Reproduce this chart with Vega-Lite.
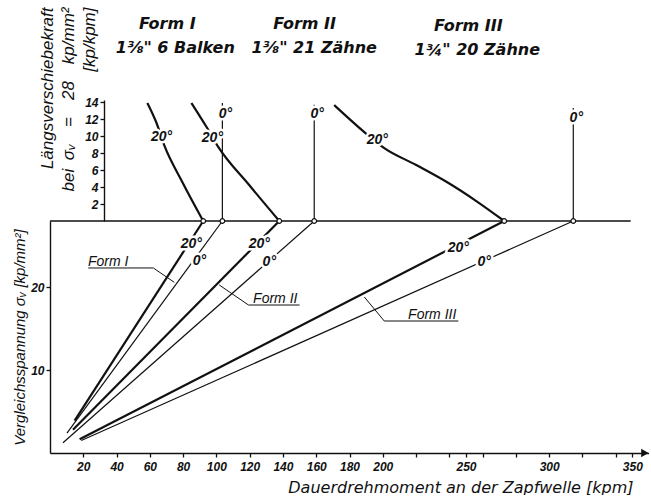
{
  "$schema": "https://vega.github.io/schema/vega-lite/v6.json",
  "padding": {"left": 12, "right": 0, "top": 0, "bottom": 0},
  "spacing": 0,
  "bounds": "flush",
  "config": {
    "view": {"stroke": null},
    "font": "Liberation Sans",
    "axis": {
      "grid": false,
      "domainColor": "#111",
      "tickColor": "#111",
      "labelColor": "#111",
      "titleColor": "#111",
      "labelFont": "Liberation Sans",
      "labelFontStyle": "italic",
      "labelFontWeight": "bold",
      "labelFontSize": 12,
      "titleFont": "Liberation Sans",
      "titleFontStyle": "italic",
      "titleFontWeight": "normal",
      "domainWidth": 1.4,
      "tickWidth": 1.3,
      "tickSize": 4,
      "labelPadding": 2
    }
  },
  "datasets": {
    "header": [
      {"t": "Form I", "x": 70.5, "y": 7.6},
      {"t": "1⅜\" 6 Balken", "x": 75.3, "y": 5.2},
      {"t": "Form II", "x": 153, "y": 7.6},
      {"t": "1⅜\"  21 Zähne", "x": 158.8, "y": 5.2},
      {"t": "Form III", "x": 251.4, "y": 7.4},
      {"t": "1¾\"  20 Zähne", "x": 256.8, "y": 5.0}
    ],
    "upper_lines": [
      {"key": "I-20", "angle": "20°", "x": 58.5, "y": 13.9},
      {"key": "I-20", "angle": "20°", "x": 63.9, "y": 11.6},
      {"key": "I-20", "angle": "20°", "x": 68.7, "y": 8.9},
      {"key": "I-20", "angle": "20°", "x": 79.5, "y": 4.6},
      {"key": "I-20", "angle": "20°", "x": 92.1, "y": 0},
      {"key": "II-20", "angle": "20°", "x": 85, "y": 13.9},
      {"key": "II-20", "angle": "20°", "x": 94, "y": 11.1},
      {"key": "II-20", "angle": "20°", "x": 101.2, "y": 8.7},
      {"key": "II-20", "angle": "20°", "x": 119.2, "y": 4.35},
      {"key": "II-20", "angle": "20°", "x": 137.8, "y": 0},
      {"key": "III-20", "angle": "20°", "x": 170.8, "y": 13.65},
      {"key": "III-20", "angle": "20°", "x": 188.9, "y": 10.47},
      {"key": "III-20", "angle": "20°", "x": 200.9, "y": 8.59},
      {"key": "III-20", "angle": "20°", "x": 220.1, "y": 6.59},
      {"key": "III-20", "angle": "20°", "x": 238.5, "y": 4.59},
      {"key": "III-20", "angle": "20°", "x": 256.2, "y": 2.35},
      {"key": "III-20", "angle": "20°", "x": 273, "y": 0},
      {"key": "I-0", "angle": "0°", "x": 103.6, "y": 0},
      {"key": "I-0", "angle": "0°", "x": 103.6, "y": 13.9},
      {"key": "II-0", "angle": "0°", "x": 158.8, "y": 0},
      {"key": "II-0", "angle": "0°", "x": 158.8, "y": 13.7},
      {"key": "III-0", "angle": "0°", "x": 314.5, "y": 0},
      {"key": "III-0", "angle": "0°", "x": 314.5, "y": 13.3}
    ],
    "upper_labels": [
      {"t": "20°", "x": 67, "y": 9.9},
      {"t": "20°", "x": 97.6, "y": 9.8},
      {"t": "0°", "x": 105.4, "y": 12.6},
      {"t": "0°", "x": 160.6, "y": 12.6},
      {"t": "20°", "x": 196.7, "y": 9.5},
      {"t": "0°", "x": 316.3, "y": 12.1}
    ],
    "lower_lines": [
      {"key": "I-20", "angle": "20°", "x": 14.8, "y": 3.9},
      {"key": "I-20", "angle": "20°", "x": 92.1, "y": 28},
      {"key": "I-0", "angle": "0°", "x": 10.2, "y": 2.4},
      {"key": "I-0", "angle": "0°", "x": 103.6, "y": 28},
      {"key": "II-20", "angle": "20°", "x": 13.8, "y": 2.8},
      {"key": "II-20", "angle": "20°", "x": 137.8, "y": 28},
      {"key": "II-0", "angle": "0°", "x": 7.8, "y": 1.24},
      {"key": "II-0", "angle": "0°", "x": 158.8, "y": 28},
      {"key": "III-20", "angle": "20°", "x": 17.8, "y": 1.65},
      {"key": "III-20", "angle": "20°", "x": 273, "y": 28},
      {"key": "III-0", "angle": "0°", "x": 18.8, "y": 1.5},
      {"key": "III-0", "angle": "0°", "x": 314.5, "y": 28}
    ],
    "lower_labels": [
      {"t": "20°", "x": 84.9, "y": 25.2},
      {"t": "0°", "x": 89.8, "y": 23.2},
      {"t": "20°", "x": 125.8, "y": 25.2},
      {"t": "0°", "x": 131.8, "y": 23.1},
      {"t": "20°", "x": 245.4, "y": 24.7},
      {"t": "0°", "x": 261, "y": 23.1}
    ],
    "form_labels": [
      {"t": "Form I", "x": 35.0, "y": 22.57},
      {"t": "Form II", "x": 135.4, "y": 18.1},
      {"t": "Form III", "x": 229.7, "y": 16.17}
    ],
    "leaders": [
      {"key": "I", "i": 1, "x": 23.0, "y": 22.33},
      {"key": "I", "i": 2, "x": 62.1, "y": 22.33},
      {"key": "I", "i": 3, "x": 74.7, "y": 20.6},
      {"key": "II", "i": 1, "x": 150, "y": 17.86},
      {"key": "II", "i": 2, "x": 119.3, "y": 17.86},
      {"key": "II", "i": 3, "x": 101.7, "y": 20.28},
      {"key": "III", "i": 1, "x": 245.4, "y": 15.93},
      {"key": "III", "i": 2, "x": 200.9, "y": 15.93},
      {"key": "III", "i": 3, "x": 188.9, "y": 18.83}
    ],
    "topline": [{"x": 0, "x2": 349, "y": 28}],
    "arrow": [{"x": 357.5, "y": 0}]
  },
  "vconcat": [
    {
      "width": 599,
      "height": 100,
      "data": {"name": "header"},
      "mark": {"type": "text", "font": "DejaVu Sans", "fontStyle": "italic", "fontWeight": "bold", "fontSize": 16, "color": "#111", "baseline": "middle", "align": "center"},
      "encoding": {
        "x": {"field": "x", "type": "quantitative", "scale": {"domain": [0, 360], "nice": false, "zero": false}, "axis": null},
        "y": {"field": "y", "type": "quantitative", "scale": {"domain": [0, 10], "nice": false, "zero": false}, "axis": null},
        "text": {"field": "t"}
      }
    },
    {
      "width": 599,
      "height": 121,
      "encoding": {
        "x": {"field": "x", "type": "quantitative", "scale": {"domain": [0, 360], "nice": false, "zero": false}, "axis": null},
        "y": {
          "field": "y", "type": "quantitative",
          "scale": {"domain": [0, 14.25], "nice": false, "zero": false},
          "axis": {
            "orient": "left",
            "offset": -54,
            "values": [2, 4, 6, 8, 10, 12, 14],
            "title": ["Längsverschiebekraft", "bei\u2002σᵥ\u2003=\u200328\u2003kp/mm²", "[kp/kpm]"],
            "titleFont": "Liberation Sans",
            "titleFontSize": 17,
            "titleLineHeight": 21,
            "titleAngle": 270,
            "titleX": -48,
            "titleY": -93,
            "titleAlign": "right",
            "titleBaseline": "bottom"
          }
        }
      },
      "layer": [
        {
          "data": {"name": "upper_lines"},
          "mark": {"type": "line", "color": "#111", "interpolate": "monotone"},
          "encoding": {
            "detail": {"field": "key"},
            "order": {"field": "y", "sort": "descending"},
            "strokeWidth": {"field": "angle", "type": "nominal", "scale": {"domain": ["0°", "20°"], "range": [1.2, 2.2]}, "legend": null}
          }
        },
        {
          "data": {"name": "upper_labels"},
          "mark": {"type": "text", "fontStyle": "italic", "fontWeight": "bold", "fontSize": 14, "fill": "white", "stroke": "white", "strokeWidth": 5, "baseline": "middle", "align": "center"},
          "encoding": {"text": {"field": "t"}}
        },
        {
          "data": {"name": "upper_labels"},
          "mark": {"type": "text", "fontStyle": "italic", "fontWeight": "bold", "fontSize": 14, "color": "#111", "baseline": "middle", "align": "center"},
          "encoding": {"text": {"field": "t"}}
        }
      ]
    },
    {
      "width": 599,
      "height": 232,
      "encoding": {
        "x": {
          "field": "x", "type": "quantitative",
          "scale": {"domain": [0, 360], "nice": false, "zero": false},
          "axis": {
            "values": [20, 40, 60, 80, 100, 120, 140, 160, 180, 200, 220, 240, 250, 260, 280, 300, 320, 340, 350],
            "labelExpr": "(datum.value <= 200 || datum.value == 250 || datum.value == 300 || datum.value == 350) ? datum.label : ''",
            "labelPadding": 4,
            "title": "Dauerdrehmoment an der Zapfwelle [kpm]",
            "titleFont": "DejaVu Sans",
            "titleFontSize": 16,
            "titleX": 583,
            "titleY": 39,
            "titleAlign": "right",
            "titleBaseline": "alphabetic"
          }
        },
        "y": {
          "field": "y", "type": "quantitative",
          "scale": {"domain": [0, 28], "nice": false, "zero": false},
          "axis": {
            "values": [10, 20],
            "title": "Vergleichsspannung σᵥ  [kp/mm²]",
            "titleFontSize": 15,
            "titlePadding": 3
          }
        }
      },
      "layer": [
        {
          "data": {"name": "topline"},
          "mark": {"type": "rule", "color": "#111", "strokeWidth": 1.4},
          "encoding": {"x2": {"field": "x2"}}
        },
        {
          "data": {"name": "lower_lines"},
          "mark": {"type": "line", "color": "#111"},
          "encoding": {
            "detail": {"field": "key"},
            "strokeWidth": {"field": "angle", "type": "nominal", "scale": {"domain": ["0°", "20°"], "range": [1.1, 2.2]}, "legend": null}
          }
        },
        {
          "data": {"name": "leaders"},
          "mark": {"type": "line", "color": "#111", "strokeWidth": 1},
          "encoding": {"detail": {"field": "key"}, "order": {"field": "i"}}
        },
        {
          "data": {"name": "lower_labels"},
          "mark": {"type": "text", "fontStyle": "italic", "fontWeight": "bold", "fontSize": 14, "fill": "white", "stroke": "white", "strokeWidth": 5, "baseline": "middle", "align": "center"},
          "encoding": {"text": {"field": "t"}}
        },
        {
          "data": {"name": "lower_labels"},
          "mark": {"type": "text", "fontStyle": "italic", "fontWeight": "bold", "fontSize": 14, "color": "#111", "baseline": "middle", "align": "center"},
          "encoding": {"text": {"field": "t"}}
        },
        {
          "data": {"name": "form_labels"},
          "mark": {"type": "text", "fontStyle": "italic", "fontSize": 14, "color": "#111", "baseline": "alphabetic", "align": "center"},
          "encoding": {"text": {"field": "t"}}
        },
        {
          "data": {"name": "lower_lines"},
          "transform": [{"filter": "datum.y == 28"}],
          "mark": {"type": "point", "shape": "circle", "size": 22, "filled": true, "fill": "white", "stroke": "#111", "strokeWidth": 1.2, "opacity": 1}
        },
        {
          "data": {"name": "arrow"},
          "mark": {"type": "point", "shape": "triangle-right", "size": 70, "filled": true, "color": "#111", "opacity": 1}
        }
      ]
    }
  ]
}
